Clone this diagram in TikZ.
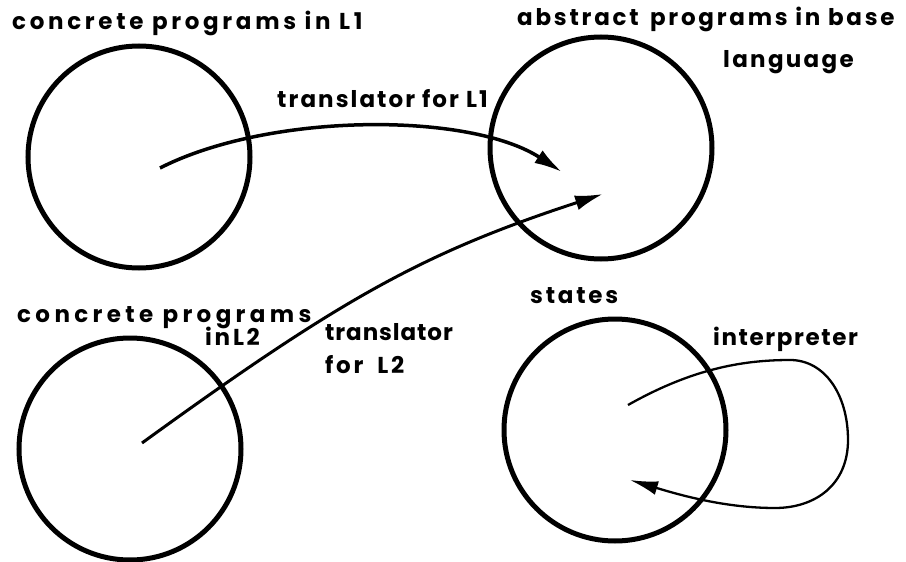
\documentclass[tikz,border=0pt]{standalone}
\usepackage{fontspec}
\setmainfont[LetterSpace=12]{Poppins}
\newcommand{\ls}[1]{\addfontfeature{LetterSpace=#1}}
\usetikzlibrary{arrows.meta}
\begin{document}
\begin{tikzpicture}[x=1pt,y=-1pt,
  setcircle/.style={draw, circle, line width=5pt, minimum size=222pt, inner sep=0pt},
  lbl/.style={anchor=base west, inner sep=0pt, font=\fontsize{23}{28}\selectfont\bfseries},
  arr/.style={line width=3pt, -{Latex[length=28pt,width=15pt]}},
  loop/.style={line width=2.3pt, -{Latex[length=28pt,width=14pt]}}]
\useasboundingbox (0,0) rectangle (906,562);
% circles
\node[setcircle] (c1) at (139,157) {};
\node[setcircle] (c2) at (601,148) {};
\node[setcircle] (c3) at (130,449) {};
\node[setcircle] (c4) at (615,430) {};
% labels
\node[lbl] (t1) at (12,29) {\ls{16}concrete programs in L1};
\node[lbl] (t2) at (517,25) {abstract\, programs in base};
\node[lbl] (t3) at (723,67) {\ls{10}language};
\node[lbl] (t4) at (17,322) {\ls{19}concrete programs};
\node[lbl] (t5) at (205,345) {inL2};
\node[lbl] (t6) at (530,303) {states};
\node[lbl] (a1) at (277,107) {\ls{9}translator for L1};
\node[lbl] (a2) at (325,340) {\ls{4}translator};
\node[lbl] (a3) at (325,373) {for\hspace{14pt}L2};
\node[lbl] (a4) at (713,345) {\ls{7}interpreter};
% connector ends
\coordinate (s1) at (160,168);
\coordinate (e1) at (562,172);
\coordinate (s2) at (142,443);
\coordinate (e2) at (603,194);
\coordinate (s3) at (628,405);
\coordinate (e3) at (630,480);
% connectors
\draw[arr, line width=3.5pt] (s1) .. controls (270,112) and (470,112) .. (e1);
\draw[arr] (s2) .. controls (342,298) and (423,253) .. (e2);
\draw[loop] (s3) .. controls (690,370) and (740,360) .. (790,360)
  .. controls (825,360) and (848,395) .. (848,440)
  .. controls (848,485) and (815,508) .. (775,508)
  .. controls (725,508) and (680,495) .. (e3);
\end{tikzpicture}
\end{document}
